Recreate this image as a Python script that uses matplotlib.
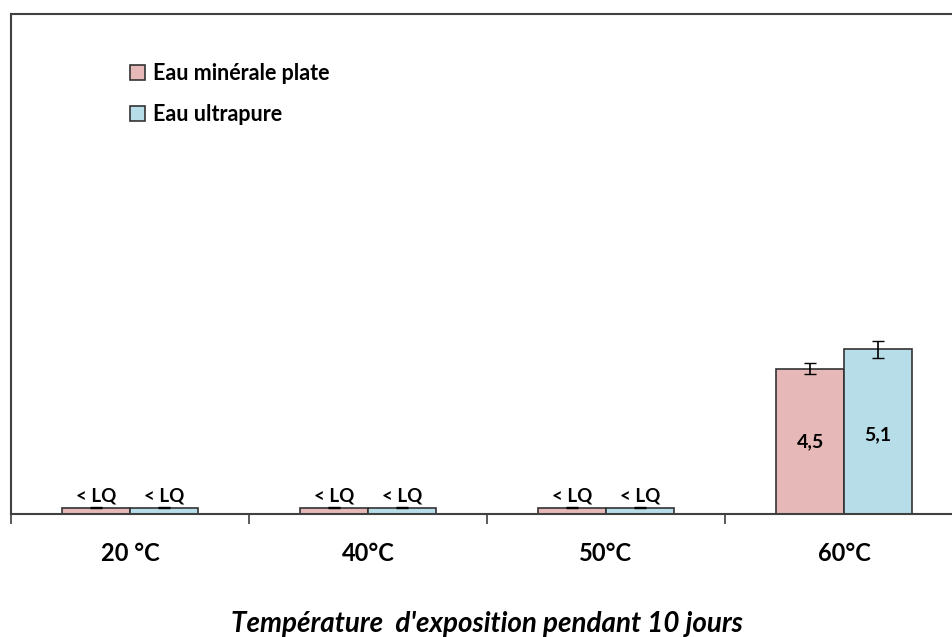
import numpy as np
import matplotlib.pyplot as plt
from matplotlib.patches import Patch

plt.rcParams['font.family'] = ['Lato', 'DejaVu Sans']

temperatures = ['20 °C', '40°C', '50°C', '60°C']
minerale = [0.2, 0.2, 0.2, 4.5]
ultrapure = [0.2, 0.2, 0.2, 5.1]
err_minerale = [0.02, 0.02, 0.02, 0.17]
err_ultrapure = [0.02, 0.02, 0.02, 0.26]
labels_minerale = ['< LQ', '< LQ', '< LQ', '4,5']
labels_ultrapure = ['< LQ', '< LQ', '< LQ', '5,1']

col_min = '#E6B9B8'
col_ult = '#B7DEE8'
edge = '#333333'

fig = plt.figure(figsize=(9.52, 6.37), dpi=100)
ax = fig.add_axes([11 / 952, 123 / 637, 952 / 952, 500 / 637])

x = np.arange(len(temperatures))
w = 0.285

ax.bar(x - w / 2, minerale, w, color=col_min, edgecolor=edge, linewidth=1.2,
       yerr=err_minerale, capsize=4, error_kw=dict(elinewidth=1.2, ecolor='black'))
ax.bar(x + w / 2, ultrapure, w, color=col_ult, edgecolor=edge, linewidth=1.2,
       yerr=err_ultrapure, capsize=4, error_kw=dict(elinewidth=1.2, ecolor='black'))

for i in range(len(temperatures)):
    if labels_minerale[i] == '< LQ':
        ax.text(x[i] - w / 2, minerale[i] + 0.1, labels_minerale[i], ha='center', va='bottom',
                fontsize=13.5, fontweight='bold')
        ax.text(x[i] + w / 2, ultrapure[i] + 0.1, labels_ultrapure[i], ha='center', va='bottom',
                fontsize=13.5, fontweight='bold')
    else:
        ax.text(x[i] - w / 2, minerale[i] / 2, labels_minerale[i], ha='center', va='center',
                fontsize=14, fontweight='bold')
        ax.text(x[i] + w / 2, ultrapure[i] / 2 - 0.1, labels_ultrapure[i], ha='center', va='center',
                fontsize=14, fontweight='bold')

ax.set_xlim(-0.5, len(temperatures) - 0.5)
ax.set_ylim(0, 15.5)
ax.set_yticks([])
ax.set_xticks(x)
ax.set_xticklabels(temperatures, fontsize=17, fontweight='bold')
ax.tick_params(axis='x', which='major', length=0, pad=20)
ax.set_xticks(np.arange(len(temperatures)) - 0.5, minor=True)
ax.tick_params(axis='x', which='minor', length=7, width=1.2, color='#404040', direction='out')

for s in ['left', 'top', 'bottom']:
    ax.spines[s].set_color('#404040')
    ax.spines[s].set_linewidth(1.5)
ax.spines['right'].set_visible(False)

ax.set_xlabel("Température  d'exposition pendant 10 jours", fontsize=20,
              fontweight='bold', style='italic', labelpad=33)

handles = [Patch(facecolor=col_min, edgecolor=edge, linewidth=1.2),
           Patch(facecolor=col_ult, edgecolor=edge, linewidth=1.2)]
ax.legend(handles, ['Eau minérale plate', 'Eau ultrapure'], loc='upper left',
          bbox_to_anchor=(0.105, 0.941), frameon=False, prop=dict(weight='bold', size=15.5),
          handlelength=0.7, handleheight=0.7, handletextpad=0.35, labelspacing=0.95)

fig.savefig('out.png', dpi=100)
